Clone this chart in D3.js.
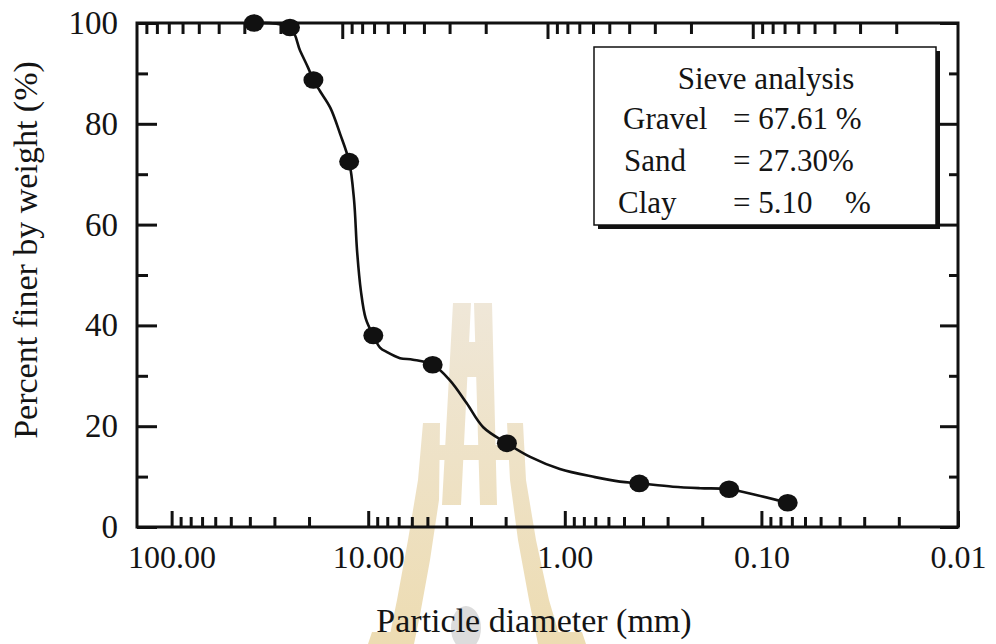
<!DOCTYPE html>
<html>
<head>
<meta charset="utf-8">
<script src="https://cdn.jsdelivr.net/npm/d3@7/dist/d3.min.js"></script>
<style>
  html, body { margin: 0; padding: 0; background: #ffffff; }
  svg { display: block; }
  text { font-family: "Liberation Serif", "Times New Roman", serif; fill: #141414; }
</style>
</head>
<body>
<svg id="chart" width="996" height="644"></svg>
<script>
// Measured sieve points: particle diameter (mm) and percent finer by weight
const sieveSize    = [38.1, 25.0, 19.0, 12.5, 9.42, 4.70, 1.97, 0.418, 0.146, 0.0735];
const percentFiner = [100, 99.1, 88.7, 72.5, 38.0, 32.2, 16.6, 8.65, 7.5, 4.8];

// Hand-drawn grading curve traced through the sieve points
const curveSize    = [38.1, 25.0, 22.2, 20.2, 19.0, 17.6, 15.6, 13.9, 12.5, 11.8, 11.4, 10.9, 10.3, 9.42,
                      8.71, 8.03, 6.89, 5.92, 4.70, 3.84, 3.16, 2.60, 1.97, 1.50, 1.06, 0.702, 0.524,
                      0.418, 0.282, 0.205, 0.146, 0.105, 0.0735];
const curvePercent = [100, 99.1, 94.5, 91.1, 88.7, 86.5, 83.2, 78.0, 72.5, 64.8, 54.9, 46.9, 41.4, 38.0,
                      35.6, 34.7, 33.5, 33.2, 32.2, 29.1, 24.6, 19.8, 16.6, 13.9, 11.5, 9.9, 9.0,
                      8.65, 8.0, 7.7, 7.5, 6.3, 4.8];

// Axis ticks
const xMajorValues = [100, 10, 1, 0.1, 0.01];
const xTickLabels  = ["100.00", "10.00", "1.00", "0.10", "0.01"];
const yMajorValues = [0, 20, 40, 60, 80, 100];
const yMinorValues = [10, 30, 50, 70, 90];

// Summary box
const legendTitle  = "Sieve analysis";
const legendNames  = ["Gravel", "Sand", "Clay"];
const legendValues = ["= 67.61 %", "= 27.30%", "= 5.10"];
const legendUnits  = ["", "", "%"];

const xTitle = "Particle diameter (mm)";
const yTitle = "Percent finer by weight (%)";

const svg = d3.select("#chart");
const L = 137, R = 958, T = 23, B = 527;

const x = d3.scaleLog().domain([150, 0.01]).range([L, R]);
const xTop = d3.scaleLog().domain([100, 0.01]).range([L, R]);
const y = d3.scaleLinear().domain([0, 100]).range([B, T]);

function minorLogTicks(lo, hi) {
  const out = [];
  for (let e = Math.floor(Math.log10(lo)); e < Math.ceil(Math.log10(hi)); e++) {
    for (let k = 2; k <= 9; k++) {
      const v = k * Math.pow(10, e);
      if (v > lo && v < hi) out.push(v);
    }
  }
  return out;
}
const xMinorBottom = minorLogTicks(0.01, 100);
const xMinorTop = minorLogTicks(0.01, 100);

// Faint emblem watermark behind the plot, pale at the top and warmer towards the foot
const grad = svg.append("defs").append("linearGradient")
  .attr("id", "wmFill").attr("x1", 0).attr("y1", 0).attr("x2", 0).attr("y2", 1);
grad.append("stop").attr("offset", "0%").attr("stop-color", "#efe7d8");
grad.append("stop").attr("offset", "100%").attr("stop-color", "#eddcb2");
const wm = svg.append("g").attr("fill", "url(#wmFill)");
const wmOutline = [
  "M453,303 L471,303 L461,505 L442,505 Z",
  "M474,303 L492,303 L497,505 L480,505 Z",
  "M466,342 L480,342 L480,377 L466,377 Z",
  "M423,423 L440,423 L439,500 L430,560 L420,615 L414,644 L388,644 L397,600 L408,540 L418,480 Z",
  "M507,423 L523,423 L526,480 L536,540 L549,600 L562,644 L538,644 L529,600 L518,540 L510,480 Z",
  "M423,445 L523,445 L523,460 L423,460 Z",
  "M372,632 L414,632 L414,644 L368,644 Z",
  "M540,632 L582,632 L586,644 L540,644 Z"
].join(" ");
wm.append("path").attr("d", wmOutline)
  .attr("fill", "url(#wmFill)");
svg.append("ellipse").attr("cx", 466).attr("cy", 628).attr("rx", 15).attr("ry", 22).attr("fill", "#dcdcdc");

// Frame
svg.append("rect").attr("x", L).attr("y", T).attr("width", R - L).attr("height", B - T)
  .attr("fill", "none").attr("stroke", "#111").attr("stroke-width", 3);

function styleAxis(size) {
  return g => {
    g.select(".domain").remove();
    g.selectAll(".tick line").attr("stroke", "#111").attr("stroke-width", 3);
    g.selectAll(".tick text").attr("font-size", size).attr("fill", "#141414");
  };
}

// Bottom axis
svg.append("g").attr("transform", `translate(0,${B})`)
  .call(d3.axisBottom(x).tickValues(xMajorValues).tickSize(-16).tickPadding(18)
    .tickFormat((d, i) => xTickLabels[i]))
  .call(styleAxis(32));
svg.append("g").attr("transform", `translate(0,${B})`)
  .call(d3.axisBottom(x).tickValues(xMinorBottom).tickSize(-10).tickFormat(""))
  .call(styleAxis(32));

// Top axis
svg.append("g").attr("transform", `translate(0,${T})`)
  .call(d3.axisTop(xTop).tickValues([10, 1, 0.1]).tickSize(-16).tickFormat(""))
  .call(styleAxis(32));
svg.append("g").attr("transform", `translate(0,${T})`)
  .call(d3.axisTop(xTop).tickValues(xMinorTop).tickSize(-11).tickFormat(""))
  .call(styleAxis(32));

// Left axis
svg.append("g").attr("transform", `translate(${L},0)`)
  .call(d3.axisLeft(y).tickValues(yMajorValues).tickSize(-20).tickPadding(19))
  .call(styleAxis(33));
svg.append("g").attr("transform", `translate(${L},0)`)
  .call(d3.axisLeft(y).tickValues(yMinorValues).tickSize(-11).tickFormat(""))
  .call(styleAxis(33));

// Right axis
svg.append("g").attr("transform", `translate(${R},0)`)
  .call(d3.axisRight(y).tickValues(yMajorValues).tickSize(-18).tickFormat(""))
  .call(styleAxis(33));
svg.append("g").attr("transform", `translate(${R},0)`)
  .call(d3.axisRight(y).tickValues(yMinorValues).tickSize(-9).tickFormat(""))
  .call(styleAxis(33));

// Grading curve
const curveData = curveSize.map((d, i) => [d, curvePercent[i]]);
svg.append("path")
  .datum(curveData)
  .attr("fill", "none").attr("stroke", "#111").attr("stroke-width", 2.6)
  .attr("d", d3.line().x(d => x(d[0])).y(d => y(d[1])).curve(d3.curveCatmullRom.alpha(0.5)));

// Sieve points
svg.append("g").selectAll("ellipse")
  .data(sieveSize.map((d, i) => [d, percentFiner[i]]))
  .join("ellipse")
  .attr("cx", d => x(d[0])).attr("cy", d => y(d[1]))
  .attr("rx", 10).attr("ry", 8.8).attr("fill", "#111");

// Summary box with drop shadow
const bx = 594, by = 47, bw = 342, bh = 178;
svg.append("rect").attr("x", bx + 4).attr("y", by + 4).attr("width", bw).attr("height", bh).attr("fill", "#111");
svg.append("rect").attr("x", bx).attr("y", by).attr("width", bw).attr("height", bh)
  .attr("fill", "#fff").attr("stroke", "#111").attr("stroke-width", 1.5);
svg.append("text").attr("x", 766).attr("y", 89).attr("text-anchor", "middle").attr("font-size", 31).text(legendTitle);
const nameX = [623, 624, 618];
const rowY = [129, 171, 213];
legendNames.forEach((n, i) => {
  svg.append("text").attr("x", nameX[i]).attr("y", rowY[i]).attr("font-size", 31).text(n);
  svg.append("text").attr("x", 733).attr("y", rowY[i]).attr("font-size", 31).text(legendValues[i]);
  if (legendUnits[i]) svg.append("text").attr("x", 845).attr("y", rowY[i]).attr("font-size", 31).text(legendUnits[i]);
});

// Axis titles
svg.append("text").attr("x", 534).attr("y", 632).attr("text-anchor", "middle").attr("font-size", 34).text(xTitle);
svg.append("text").attr("transform", "translate(37,250) rotate(-90)").attr("text-anchor", "middle")
  .attr("font-size", 34).text(yTitle);
</script>
</body>
</html>
